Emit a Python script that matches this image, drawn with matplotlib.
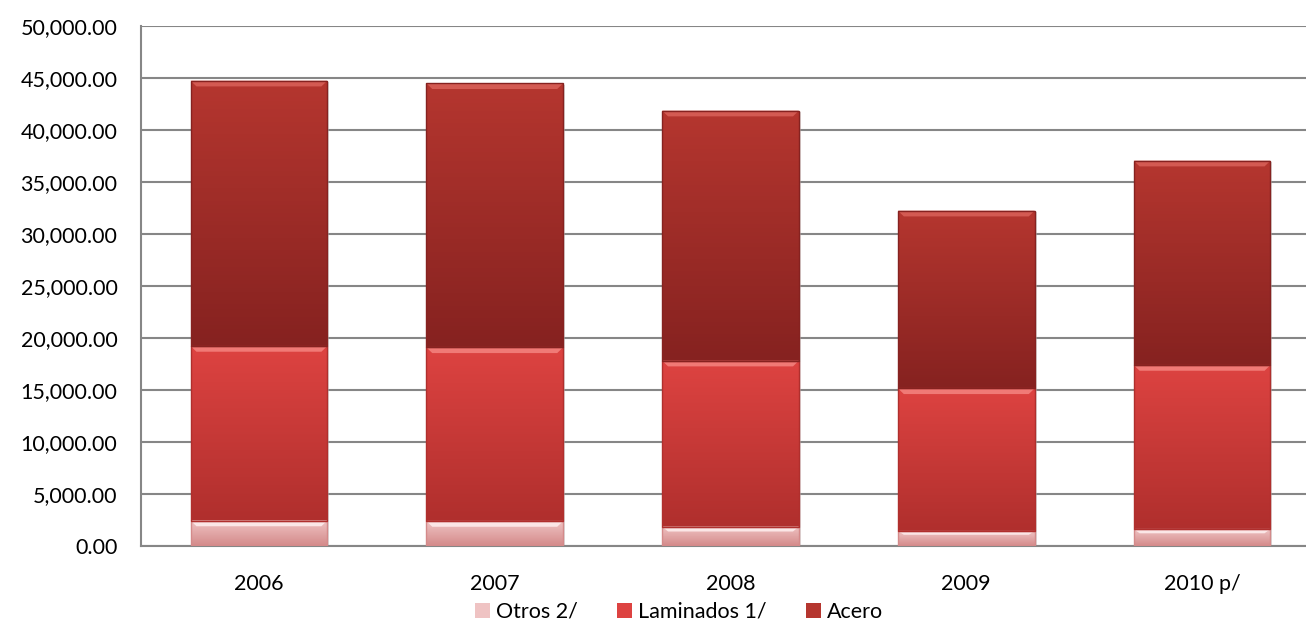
import matplotlib.pyplot as plt
import numpy as np
from matplotlib.colors import LinearSegmentedColormap
from matplotlib.patches import Polygon, Rectangle
from matplotlib.ticker import FuncFormatter

plt.rcParams['font.family'] = ['Lato', 'DejaVu Sans']

# Datos por año (toneladas)
anios = ['2006', '2007', '2008', '2009', '2010 p/']
otros = [2450, 2400, 1860, 1440, 1630]
laminados = [16780, 16700, 15960, 13720, 15770]
acero = [25510, 25390, 24040, 17080, 19650]

series = ['Otros 2/', 'Laminados 1/', 'Acero']
# color superior, color inferior, color del bisel
colores = {
    'Otros 2/': ('#efc3c3', '#d48a8a', '#fbe6e6'),
    'Laminados 1/': ('#dd4341', '#b02f2d', '#f07a76'),
    'Acero': ('#b5362f', '#862220', '#d35a52'),
}

fig = plt.figure(figsize=(13.06, 6.34), dpi=100)
ax = fig.add_axes([0.108, 0.1388, 0.9027, 0.8202])

x = np.arange(len(anios))
ancho = 0.58
base = np.zeros(len(anios))
for nombre, vals in zip(series, [otros, laminados, acero]):
    c_top, c_bot, c_bisel = colores[nombre]
    cmap = LinearSegmentedColormap.from_list(nombre, [c_bot, c_top])
    barras = ax.bar(x, vals, ancho, bottom=base, color=c_top, zorder=3,
                    label=nombre, linewidth=0)
    for b in barras:
        x0, y0 = b.get_x(), b.get_y()
        w, h = b.get_width(), b.get_height()
        x1 = x0 + w
        grad = np.linspace(0, 1, 64).reshape(-1, 1)
        img = ax.imshow(grad, extent=[x0, x1, y0, y0 + h],
                        origin='lower', aspect='auto', cmap=cmap, zorder=3.1)
        img.set_clip_path(b)
        # bisel superior
        bh = min(550, h * 0.25)
        dx = 0.025
        ax.add_patch(Polygon([[x0, y0 + h], [x1, y0 + h],
                              [x1 - dx, y0 + h - bh], [x0 + dx, y0 + h - bh]],
                             closed=True, color=c_bisel, lw=0, zorder=3.2))
        # borde y sombra
        ax.add_patch(Rectangle((x0, y0), w, h, fill=False,
                               edgecolor=c_bot, lw=1.0, zorder=3.3))
        ax.add_patch(Rectangle((x0 + 0.008, y0 - 120), w, h, color='#bdbdbd',
                               lw=0, zorder=2.5, alpha=0.5))
    base += np.array(vals)

ax.set_xlim(-0.5, 4.5)
ax.set_ylim(0, 50000)
ax.set_yticks(np.arange(0, 50001, 5000))
ax.yaxis.set_major_formatter(FuncFormatter(lambda v, p: f'{v:,.2f}'))
ax.set_xticks(x)
ax.set_xticklabels(anios)
ax.tick_params(axis='both', length=0, labelsize=15.5, colors='black')
ax.tick_params(axis='x', pad=20)
ax.tick_params(axis='y', pad=17)
ax.grid(axis='y', color='#868686', lw=1.5, zorder=1)
for s in ['top', 'right']:
    ax.spines[s].set_visible(False)
for s in ['left', 'bottom']:
    ax.spines[s].set_color('#868686')
    ax.spines[s].set_linewidth(1.5)

fig.legend(loc='center', bbox_to_anchor=(0.52, 0.035), ncol=3, frameon=False,
           fontsize=15.5, handlelength=0.7, handleheight=0.7, handletextpad=0.3,
           columnspacing=1.8)

fig.savefig('out.png', dpi=100)
